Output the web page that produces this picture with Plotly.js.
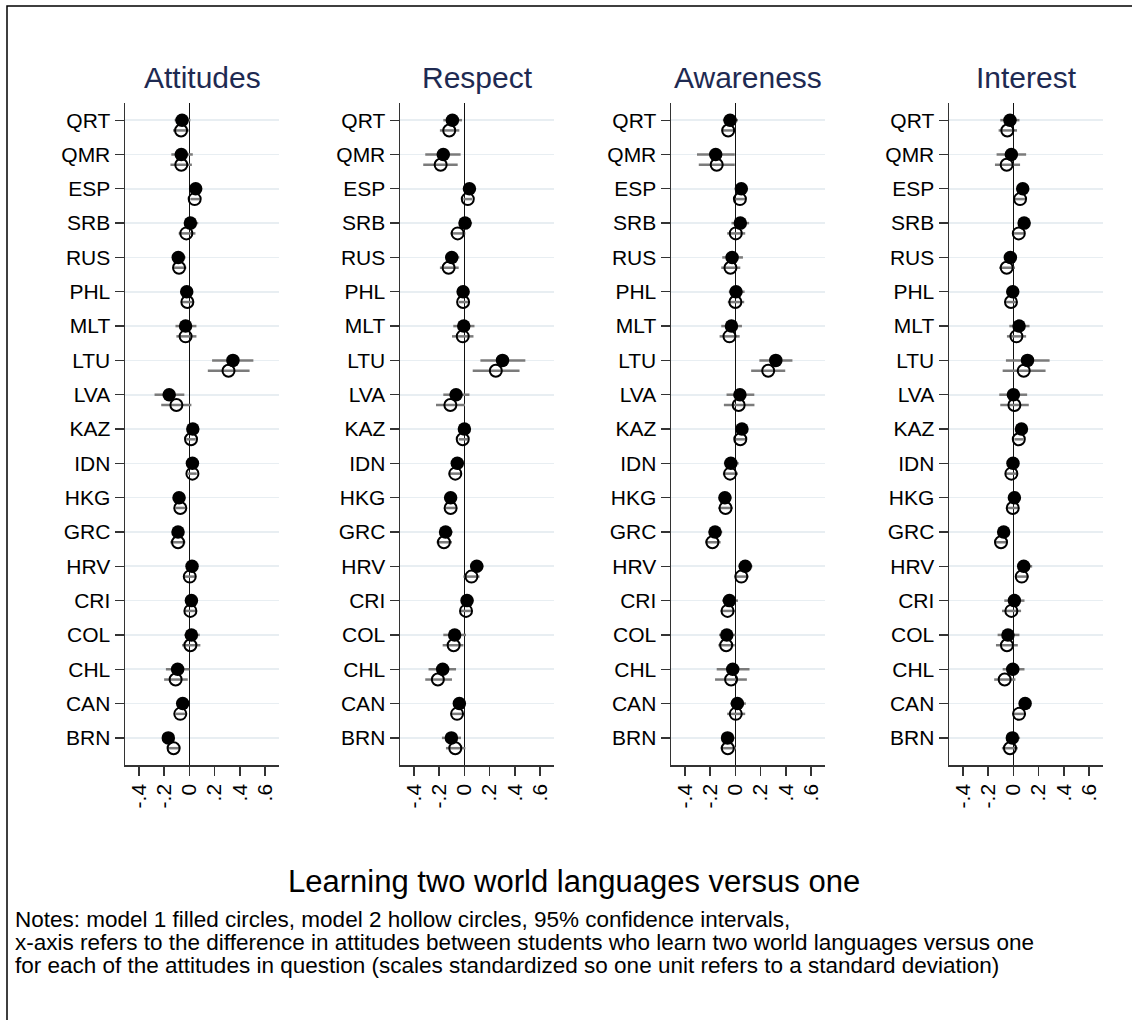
<!DOCTYPE html>
<html>
<head>
<meta charset="utf-8">
<script src="https://cdn.plot.ly/plotly-3.0.1.min.js"></script>
<style>
  html, body { margin: 0; padding: 0; background: #ffffff; }
  #chart { width: 1132px; height: 1020px; }
</style>
</head>
<body>
<div id="chart"></div>
<script>
// Countries, top to bottom
const countries = ["QRT", "QMR", "ESP", "SRB", "RUS", "PHL", "MLT", "LTU", "LVA", "KAZ",
                   "IDN", "HKG", "GRC", "HRV", "CRI", "COL", "CHL", "CAN", "BRN"];

const panelTitles = ["Attitudes", "Respect", "Awareness", "Interest"];

const xTickVals = [-0.4, -0.2, 0, 0.2, 0.4, 0.6];
const xTickText = ["-.4", "-.2", "0", ".2", ".4", ".6"];

// Attitudes: model 1 (filled) and model 2 (hollow), estimate with 95% CI
const attitudesEst1 = [-0.058, -0.064, 0.05, 0.008, -0.088, -0.021, -0.03, 0.345, -0.16, 0.027, 0.024, -0.082, -0.09, 0.021, 0.016, 0.016, -0.093, -0.053, -0.167];
const attitudesLo1  = [-0.117, -0.143, 0.008, -0.03, -0.13, -0.058, -0.11, 0.18, -0.276, -0.013, -0.01, -0.125, -0.138, -0.019, -0.024, -0.04, -0.186, -0.098, -0.21];
const attitudesHi1  = [0.008, 0.027, 0.09, 0.07, -0.03, 0.021, 0.056, 0.507, -0.04, 0.066, 0.06, -0.032, -0.04, 0.066, 0.066, 0.082, 0, -0.005, -0.125];
const attitudesEst2 = [-0.066, -0.064, 0.042, -0.024, -0.082, -0.016, -0.03, 0.31, -0.103, 0.013, 0.024, -0.072, -0.09, 0.003, 0.008, 0.008, -0.109, -0.072, -0.125];
const attitudesLo2  = [-0.13, -0.15, 0.008, -0.085, -0.125, -0.058, -0.103, 0.146, -0.223, -0.024, -0.01, -0.11, -0.151, -0.04, -0.04, -0.058, -0.2, -0.11, -0.173];
const attitudesHi2  = [-0.005, 0.02, 0.082, 0.048, -0.024, 0.027, 0.056, 0.477, 0.016, 0.05, 0.058, -0.032, -0.032, 0.048, 0.056, 0.087, -0.013, -0.032, -0.072];

// Respect
const respectEst1 = [-0.095, -0.167, 0.04, 0.005, -0.1, -0.01, -0.005, 0.302, -0.066, 0, -0.056, -0.109, -0.149, 0.098, 0.021, -0.077, -0.172, -0.04, -0.103];
const respectLo1  = [-0.167, -0.31, 0.008, -0.04, -0.151, -0.045, -0.088, 0.127, -0.167, -0.034, -0.106, -0.151, -0.194, 0.045, -0.019, -0.167, -0.284, -0.08, -0.178];
const respectHi1  = [-0.019, -0.03, 0.072, 0.061, -0.04, 0.032, 0.08, 0.483, 0.04, 0.04, -0.008, -0.061, -0.093, 0.151, 0.072, 0.013, -0.066, 0, -0.027];
const respectEst2 = [-0.12, -0.188, 0.027, -0.053, -0.125, -0.01, -0.013, 0.249, -0.111, -0.013, -0.072, -0.109, -0.162, 0.056, 0.013, -0.085, -0.21, -0.058, -0.072];
const respectLo2  = [-0.194, -0.326, -0.008, -0.11, -0.194, -0.045, -0.098, 0.066, -0.225, -0.045, -0.125, -0.151, -0.22, -0.008, -0.027, -0.172, -0.31, -0.098, -0.146];
const respectHi2  = [-0.04, -0.053, 0.061, 0.008, -0.045, 0.032, 0.072, 0.437, 0.005, 0.027, -0.019, -0.061, -0.098, 0.12, 0.053, -0.008, -0.098, -0.013, 0.008];

// Awareness
const awarenessEst1 = [-0.042, -0.156, 0.047, 0.039, -0.026, 0.005, -0.031, 0.32, 0.036, 0.052, -0.036, -0.083, -0.161, 0.078, -0.047, -0.068, -0.021, 0.016, -0.062];
const awarenessLo1  = [-0.099, -0.304, 0.005, -0.031, -0.104, -0.052, -0.112, 0.19, -0.07, 0.013, -0.091, -0.13, -0.213, 0.026, -0.104, -0.13, -0.148, -0.039, -0.112];
const awarenessHi1  = [0.021, -0.005, 0.091, 0.109, 0.06, 0.073, 0.052, 0.452, 0.15, 0.091, 0.026, -0.031, -0.104, 0.135, 0.021, 0, 0.112, 0.083, -0.005];
const awarenessEst2 = [-0.057, -0.148, 0.036, 0.003, -0.039, 0, -0.047, 0.26, 0.026, 0.039, -0.042, -0.078, -0.182, 0.047, -0.062, -0.073, -0.034, 0.003, -0.06];
const awarenessLo2  = [-0.109, -0.29, 0, -0.065, -0.112, -0.06, -0.125, 0.125, -0.091, 0, -0.099, -0.135, -0.239, -0.005, -0.117, -0.135, -0.161, -0.065, -0.117];
const awarenessHi2  = [-0.005, -0.005, 0.078, 0.078, 0.039, 0.07, 0.034, 0.395, 0.151, 0.083, 0.021, -0.021, -0.117, 0.104, -0.005, -0.005, 0.091, 0.078, 0.005];

// Interest
const interestEst1 = [-0.027, -0.016, 0.074, 0.085, -0.024, -0.005, 0.045, 0.112, 0, 0.064, -0.003, 0.008, -0.077, 0.082, 0.008, -0.043, -0.005, 0.093, -0.008];
const interestLo1  = [-0.104, -0.133, 0.035, 0.043, -0.072, -0.051, -0.032, -0.059, -0.112, 0.021, -0.045, -0.037, -0.125, 0.035, -0.072, -0.125, -0.085, 0.048, -0.059];
const interestHi1  = [0.048, 0.101, 0.114, 0.133, 0.027, 0.035, 0.128, 0.287, 0.109, 0.106, 0.043, 0.053, -0.027, 0.149, 0.088, 0.048, 0.088, 0.135, 0.053];
const interestEst2 = [-0.048, -0.053, 0.053, 0.043, -0.053, -0.019, 0.024, 0.082, 0.008, 0.043, -0.016, -0.005, -0.098, 0.066, -0.016, -0.051, -0.069, 0.045, -0.027];
const interestLo2  = [-0.117, -0.146, 0.013, -0.005, -0.112, -0.059, -0.051, -0.085, -0.104, 0.008, -0.059, -0.051, -0.152, 0.013, -0.09, -0.138, -0.152, -0.005, -0.091];
const interestHi2  = [0.029, 0.053, 0.096, 0.088, 0.013, 0.027, 0.101, 0.255, 0.122, 0.08, 0.027, 0.04, -0.045, 0.122, 0.061, 0.035, 0.016, 0.096, 0.035];

const panels = [
  { m1: [attitudesEst1, attitudesLo1, attitudesHi1], m2: [attitudesEst2, attitudesLo2, attitudesHi2] },
  { m1: [respectEst1, respectLo1, respectHi1],       m2: [respectEst2, respectLo2, respectHi2] },
  { m1: [awarenessEst1, awarenessLo1, awarenessHi1], m2: [awarenessEst2, awarenessLo2, awarenessHi2] },
  { m1: [interestEst1, interestLo1, interestHi1],    m2: [interestEst2, interestLo2, interestHi2] }
];

// ---- layout geometry (pixels) ----
const W = 1132, H = 1020;
const panelLeft = [125, 400, 671, 949];
const panelWidth = 154;
const plotTop = 103, plotBottom = 765;
const hollowOffset = 0.3;

const FONT = "Liberation Sans, Arial, Helvetica, sans-serif";
const px = v => v / W;
const py = v => 1 - v / H;

const rowIdx = countries.map((_, i) => i);

const traces = [];
const layout = {
  width: W, height: H,
  margin: { l: 0, r: 0, t: 0, b: 0 },
  paper_bgcolor: "#ffffff",
  plot_bgcolor: "#ffffff",
  showlegend: false,
  font: { family: FONT, color: "#000000" },
  annotations: [],
  shapes: []
};

function ciTrace(est, lo, hi, ys, axisSuffix, filled) {
  return {
    type: "scatter",
    mode: "markers",
    x: est,
    y: ys,
    xaxis: "x" + axisSuffix,
    yaxis: "y" + axisSuffix,
    hoverinfo: "skip",
    error_x: {
      type: "data",
      symmetric: false,
      array: hi.map((h, i) => h - est[i]),
      arrayminus: lo.map((l, i) => est[i] - l),
      width: 0,
      thickness: 2.5,
      color: "#7b7b7b"
    },
    marker: filled
      ? { symbol: "circle", size: 13.5, color: "#000000", line: { width: 0 } }
      : { symbol: "circle-open", size: 12, color: "#000000", line: { width: 2, color: "#000000" } }
  };
}

panels.forEach((p, k) => {
  const s = k === 0 ? "" : String(k + 1);
  const xKey = "xaxis" + s, yKey = "yaxis" + s;

  traces.push(ciTrace(p.m1[0], p.m1[1], p.m1[2], rowIdx, s, true));
  traces.push(ciTrace(p.m2[0], p.m2[1], p.m2[2], rowIdx.map(i => i + hollowOffset), s, false));

  layout[xKey] = {
    domain: [px(panelLeft[k]), px(panelLeft[k] + panelWidth)],
    anchor: "y" + s,
    range: [-0.51, 0.71],
    tickmode: "array",
    tickvals: xTickVals,
    ticktext: xTickText,
    tickangle: -90,
    ticks: "outside",
    ticklen: 9,
    tickwidth: 1.3,
    tickcolor: "#333333",
    tickfont: { family: FONT, size: 21, color: "#000000" },
    showline: true,
    linecolor: "#333333",
    linewidth: 1.5,
    showgrid: false,
    zeroline: true,
    zerolinecolor: "#111111",
    zerolinewidth: 1.5,
    fixedrange: true
  };
  layout[yKey] = {
    domain: [py(plotBottom), py(plotTop)],
    anchor: "x" + s,
    range: [18.79, -0.5],
    tickmode: "array",
    tickvals: rowIdx,
    ticktext: countries,
    ticks: "outside",
    ticklen: 9,
    tickwidth: 1.3,
    tickcolor: "#333333",
    tickfont: { family: FONT, size: 21, color: "#000000" },
    showline: true,
    linecolor: "#333333",
    linewidth: 1.5,
    showgrid: true,
    gridcolor: "#e8eef2",
    gridwidth: 1.6,
    zeroline: false,
    fixedrange: true
  };

  layout.annotations.push({
    text: panelTitles[k],
    xref: "paper", yref: "paper",
    x: px(panelLeft[k] + panelWidth / 2),
    y: py(78),
    xanchor: "center", yanchor: "middle",
    showarrow: false,
    font: { family: FONT, size: 30, color: "#1e2a52" }
  });
});

// overall x title
layout.annotations.push({
  text: "Learning two world languages versus one",
  xref: "paper", yref: "paper",
  x: px(574), y: py(881),
  xanchor: "center", yanchor: "middle",
  showarrow: false,
  font: { family: FONT, size: 31, color: "#000000" }
});

// notes below the chart
const noteLines = [
  "Notes: model 1 filled circles, model 2 hollow circles, 95% confidence intervals,",
  "x-axis refers to the difference in attitudes between students who learn two world languages versus one",
  "for each of the attitudes in question (scales standardized so one unit refers to a standard deviation)"
];
const noteY = [919, 942, 965];
noteLines.forEach((t, i) => {
  layout.annotations.push({
    text: t,
    xref: "paper", yref: "paper",
    x: px(13), y: py(noteY[i]),
    xanchor: "left", yanchor: "middle",
    showarrow: false,
    font: { family: FONT, size: 22.5, color: "#000000" }
  });
});

// outer frame
layout.shapes.push({
  type: "rect", xref: "paper", yref: "paper",
  x0: px(7), x1: 1.02, y0: -0.02, y1: py(6),
  line: { color: "#000000", width: 1.5 },
  fillcolor: "rgba(0,0,0,0)"
});

Plotly.newPlot("chart", traces, layout, { displayModeBar: false, staticPlot: true });
</script>
</body>
</html>
